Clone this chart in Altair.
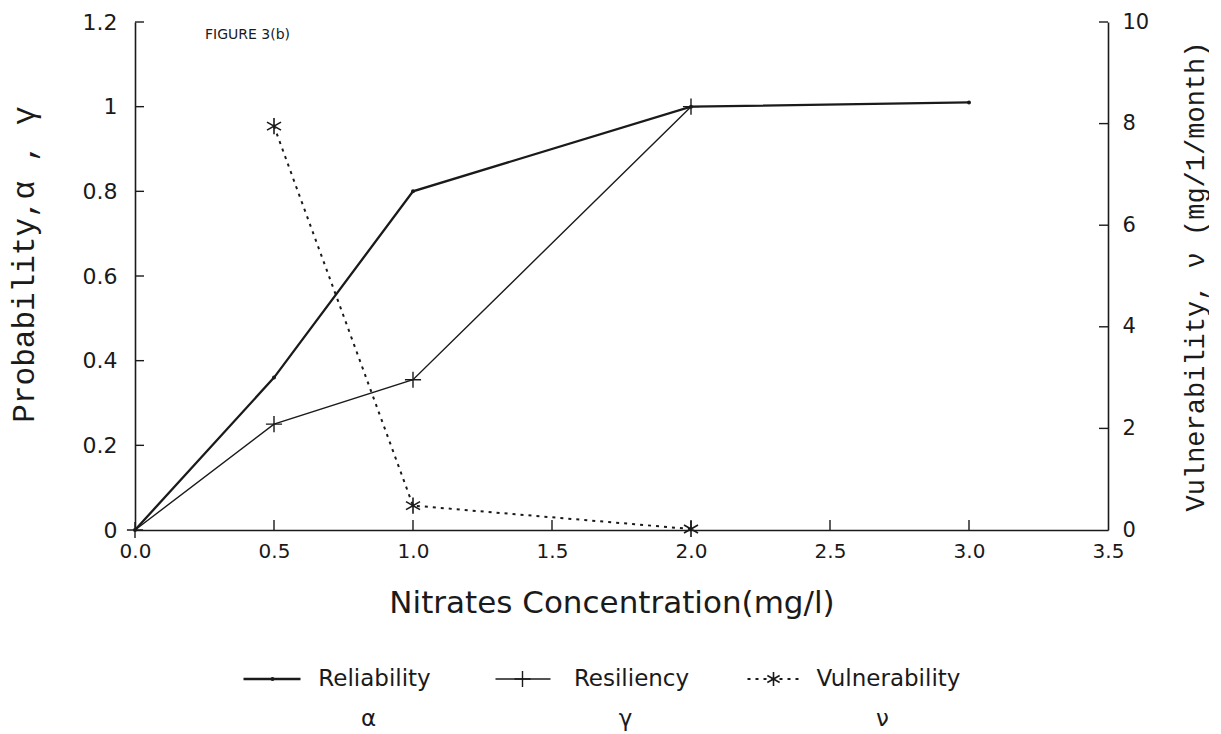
import altair as alt
import pandas as pd

# ---- data ----
x_rel = [0.0, 0.5, 1.0, 2.0, 3.0]
y_rel = [0.0, 0.36, 0.80, 1.0, 1.01]

x_res = [0.0, 0.5, 1.0, 2.0]
y_res = [0.0, 0.25, 0.355, 1.0]

x_vul = [0.5, 1.0, 2.0]
y_vul = [7.95, 0.48, 0.02]

x_tick_labels = [0.0, 0.5, 1.0, 1.5, 2.0, 2.5, 3.0, 3.5]
x_inner_ticks = [0.5, 1.0, 1.5, 2.0, 2.5, 3.0]
left_tick_labels = [0.0, 0.2, 0.4, 0.6, 0.8, 1.0, 1.2]
left_inner_ticks = [0.2, 0.4, 0.6, 0.8, 1.0, 1.2]
right_tick_labels = [0, 2, 4, 6, 8, 10]
right_inner_ticks = [2, 4, 6, 8, 10]

legend_names = ["Reliability", "Resiliency", "Vulnerability"]
legend_greek = ["α", "γ", "ν"]

# ---- style ----
W, H = 973, 508
INK = "#1a1a1a"
MONO = "Liberation Mono, DejaVu Sans Mono, monospace"
SANS = "DejaVu Sans, Liberation Sans, sans-serif"

PLUS = "M-1,0L1,0M0,-1L0,1"
STAR = "M0,-1L0,1M-0.87,-0.5L0.87,0.5M-0.87,0.5L0.87,-0.5"

rel_df = pd.DataFrame({"x": x_rel, "y": y_rel})
res_df = pd.DataFrame({"x": x_res, "y": y_res})
vul_df = pd.DataFrame({"x": x_vul, "y": y_vul})
xt_df = pd.DataFrame({"x": x_inner_ticks})
lt_df = pd.DataFrame({"y": left_inner_ticks})
rt_df = pd.DataFrame({"y": right_inner_ticks})

xscale = alt.Scale(domain=[0, 3.5], nice=False, zero=False)
lscale = alt.Scale(domain=[0, 1.2], nice=False)
rscale = alt.Scale(domain=[0, 10], nice=False)

x_axis = alt.Axis(values=x_tick_labels, format=".1f", tickSize=0, labelPadding=11,
                  labelFont=SANS, labelFontSize=20, labelColor=INK,
                  title="Nitrates Concentration(mg/l)", titleFont=SANS,
                  titleFontSize=31, titleFontWeight="normal", titleColor=INK,
                  titlePadding=27, titleX=W / 2 - 10, domainColor=INK, domainWidth=1.6,
                  grid=False, labelFlush=False)
l_axis = alt.Axis(values=left_tick_labels, format="~g", tickSize=0, labelPadding=18,
                  labelFont=SANS, labelFontSize=22, labelColor=INK,
                  title="Probability,α , γ", titleFont=MONO, titleFontSize=31,
                  titleFontWeight="normal", titleColor=INK, titlePadding=42,
                  titleY=H / 2 - 12,
                  domainColor=INK, domainWidth=1.6, grid=False)
r_axis = alt.Axis(values=right_tick_labels, orient="right", tickSize=0, labelPadding=14,
                  labelFont=SANS, labelFontSize=21, labelColor=INK,
                  title="Vulnerability, ν (mg/1/month)", titleFont=MONO, titleFontSize=27,
                  titleAngle=270, titleBaseline="top", titleFontWeight="normal",
                  titleColor=INK, titlePadding=34,
                  domainColor=INK, domainWidth=1.6, grid=False)

X = alt.X("x:Q", scale=xscale, axis=x_axis)
YL = alt.Y("y:Q", scale=lscale, axis=l_axis)
YR = alt.Y("y:Q", scale=rscale, axis=r_axis)

rel_line = alt.Chart(rel_df).mark_line(color=INK, strokeWidth=2.3).encode(x=X, y=YL)
rel_pts = alt.Chart(rel_df).mark_point(shape="circle", filled=True, size=16, color=INK,
                                       opacity=1).encode(x=X, y=YL)
res_line = alt.Chart(res_df).mark_line(color=INK, strokeWidth=1.4).encode(x=X, y=YL)
res_pts = alt.Chart(res_df).mark_point(shape=PLUS, filled=False, size=260, color=INK,
                                       strokeWidth=1.4, opacity=1).encode(x=X, y=YL)
x_ticks = alt.Chart(xt_df).mark_rule(color=INK, strokeWidth=1.4).encode(
    x=X, y=alt.value(H), y2=alt.value(H - 10))
l_ticks = alt.Chart(lt_df).mark_rule(color=INK, strokeWidth=1.4).encode(
    y=YL, x=alt.value(0), x2=alt.value(9))
fig_label = alt.Chart(pd.DataFrame({"t": ["FIGURE 3(b)"]})).mark_text(
    align="left", baseline="middle", font=SANS, fontSize=14, color=INK
).encode(text="t:N", x=alt.value(70), y=alt.value(13))

left_group = alt.layer(rel_line, res_line, rel_pts, res_pts, x_ticks, l_ticks, fig_label)

vul_line = alt.Chart(vul_df).mark_line(color=INK, strokeWidth=2, strokeDash=[3, 5]).encode(x=X, y=YR)
vul_pts = alt.Chart(vul_df).mark_point(shape=STAR, filled=False, size=260, color=INK,
                                       strokeWidth=1.6, opacity=1).encode(x=X, y=YR)
r_ticks = alt.Chart(rt_df).mark_rule(color=INK, strokeWidth=1.4).encode(
    y=YR, x=alt.value(W - 9), x2=alt.value(W))

right_group = alt.layer(vul_line, vul_pts, r_ticks)

main = alt.layer(left_group, right_group).resolve_scale(y="independent").properties(
    width=W, height=H)

# ---- legend panel ----
leg_df = pd.DataFrame({"name": legend_names, "greek": legend_greek})
LX = alt.X("name:N", sort=legend_names, axis=None,
           scale=alt.Scale(range=[101, 872], paddingInner=0, paddingOuter=0))
LY = 43
GY = 83

def leg_rule(name, x0, x1, **kw):
    return alt.Chart(leg_df).transform_filter(alt.datum.name == name).mark_rule(
        color=INK, xOffset=x0, x2Offset=x1, **kw
    ).encode(x=LX, x2="name:N", y=alt.value(LY))

leg_lines = [
    leg_rule("Reliability", -121, -64, strokeWidth=2.3),
    leg_rule("Resiliency", -126, -71, strokeWidth=1.4),
    leg_rule("Vulnerability", -131, -78, strokeWidth=2, strokeDash=[3, 5]),
]
leg_dot = alt.Chart(leg_df).transform_filter(alt.datum.name == "Reliability").mark_point(
    shape="circle", filled=True, size=16, color=INK, opacity=1, xOffset=-92
).encode(x=LX, y=alt.value(LY))
leg_plus = alt.Chart(leg_df).transform_filter(alt.datum.name == "Resiliency").mark_point(
    shape=PLUS, filled=False, size=260, color=INK, strokeWidth=1.4, opacity=1, xOffset=-99
).encode(x=LX, y=alt.value(LY))
leg_star = alt.Chart(leg_df).transform_filter(alt.datum.name == "Vulnerability").mark_point(
    shape=STAR, filled=False, size=200, color=INK, strokeWidth=1.6, opacity=1, xOffset=-105
).encode(x=LX, y=alt.value(LY))
leg_text = alt.Chart(leg_df).mark_text(
    align="center", baseline="middle", font=SANS, fontSize=23, color=INK, dx=10
).encode(x=LX, y=alt.value(LY), text="name:N")
leg_greek = alt.Chart(leg_df).mark_text(
    align="center", baseline="middle", font=SANS, fontSize=23, color=INK, dx=4
).encode(x=LX, y=alt.value(GY), text="greek:N")

legend = alt.layer(*leg_lines, leg_dot, leg_plus, leg_star, leg_text, leg_greek).properties(
    width=W, height=92)

chart = alt.vconcat(main, legend, spacing=18).properties(
    padding={"left": 0, "right": 0, "top": 3, "bottom": 0},
    background="white",
).configure_view(stroke=None)

chart.save("out.html", embed_options={"renderer": "svg", "actions": False})
